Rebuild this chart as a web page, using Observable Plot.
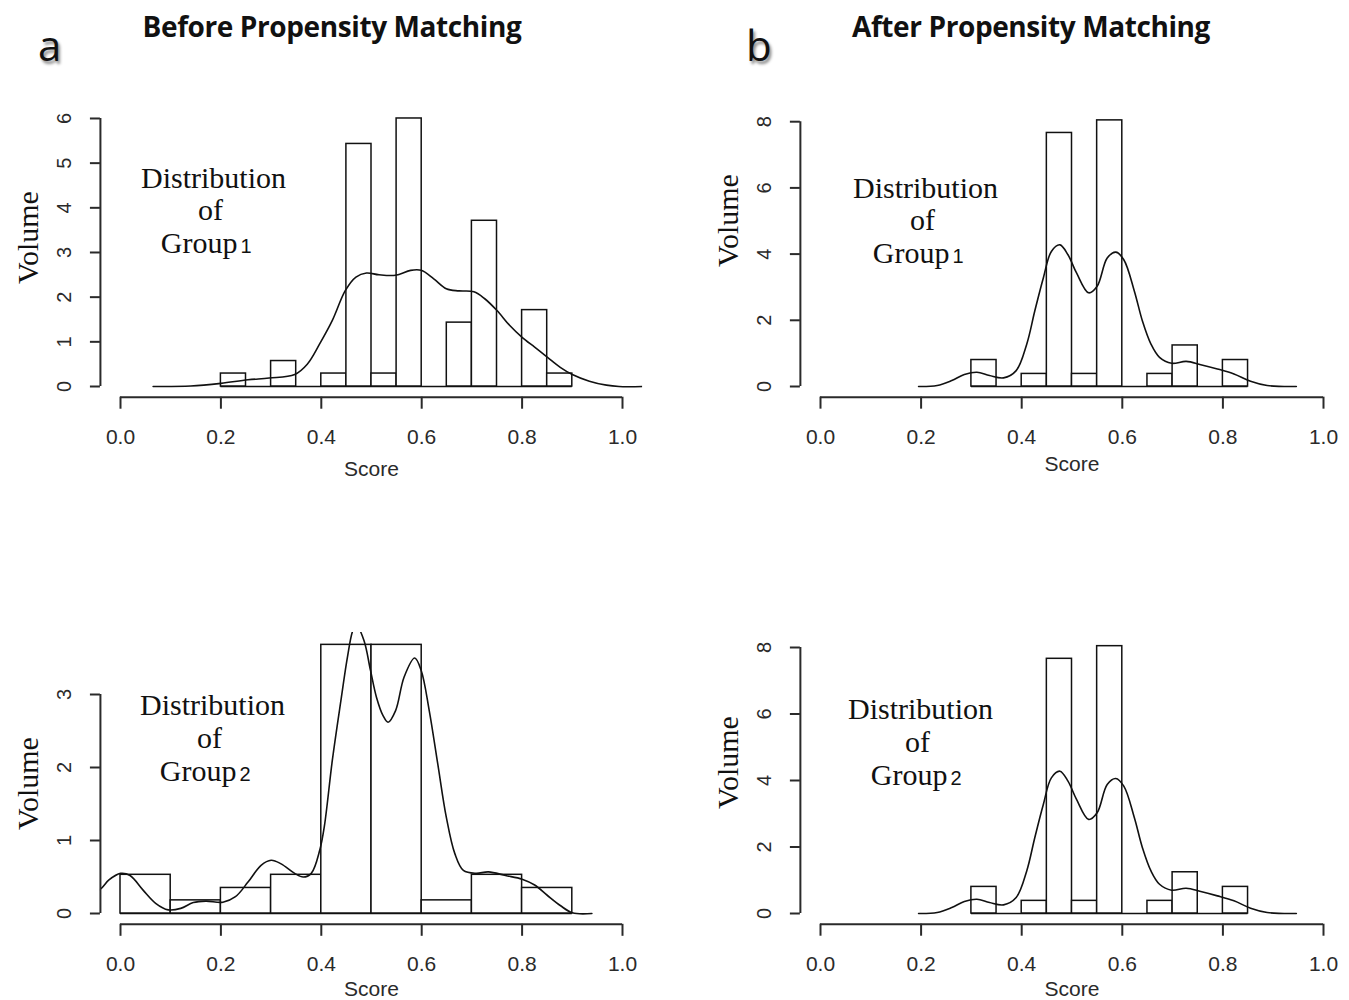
<!DOCTYPE html>
<html><head><meta charset="utf-8">
<script src="https://cdn.jsdelivr.net/npm/d3@7"></script>
<script src="https://cdn.jsdelivr.net/npm/@observablehq/plot@0.6"></script>
<style>
body{margin:0;background:#fff;}
#wrap{position:relative;width:1349px;height:1000px;overflow:hidden;background:#fff;}
.panel{position:absolute;}
.title{position:absolute;font-family:"Open Sans",sans-serif;font-weight:bold;font-size:28px;color:#111;white-space:nowrap;transform:translateX(-50%);letter-spacing:-0.4px;line-height:1;}
.tag{position:absolute;font-family:"Open Sans",sans-serif;font-size:42px;color:#111;text-shadow:2px 3px 3px rgba(0,0,0,0.45);line-height:1;}
</style></head><body><div id="wrap"></div>
<script>
// ---------- data ----------
const xTicks = [0, 0.2, 0.4, 0.6, 0.8, 1.0];

// Before matching, Group 1 (bin width 0.05)
const beforeG1Edges   = [0.20,0.25,0.30,0.35,0.40,0.45,0.50,0.55,0.60,0.65,0.70,0.75,0.80,0.85];
const beforeG1Heights = [0.29,0,0.57,0,0.29,5.43,0.29,6.0,0,1.43,3.71,0,1.71,0.29];
const beforeG1DensX = [0.065,0.14,0.20,0.254,0.296,0.347,0.372,0.397,0.422,0.448,0.469,0.49,0.515,0.548,0.578,0.599,0.624,0.649,0.674,0.704,0.725,0.75,0.775,0.80,0.825,0.85,0.876,0.90,0.934,0.968,0.993,1.04];
const beforeG1DensY = [0,0.01,0.07,0.15,0.19,0.27,0.5,0.96,1.48,2.15,2.45,2.54,2.50,2.49,2.6,2.6,2.41,2.19,2.14,2.12,1.97,1.70,1.37,1.1,0.88,0.66,0.43,0.27,0.12,0.03,0,0];
const beforeG1YTicks = [0,1,2,3,4,5,6];

// Before matching, Group 2 (bin width 0.1)
const beforeG2Edges   = [0.0,0.1,0.2,0.3,0.4,0.5,0.6,0.7,0.8];
const beforeG2Heights = [0.53,0.18,0.35,0.53,3.68,3.68,0.18,0.53,0.35];
const beforeG2DensX = [-0.06,-0.039,-0.023,0.0,0.019,0.045,0.07,0.095,0.12,0.145,0.17,0.204,0.229,0.254,0.28,0.30,0.32,0.347,0.364,0.38,0.397,0.406,0.422,0.44,0.452,0.463,0.47,0.485,0.498,0.51,0.523,0.533,0.548,0.565,0.586,0.599,0.615,0.632,0.649,0.666,0.683,0.708,0.733,0.767,0.80,0.825,0.85,0.876,0.90,0.939];
const beforeG2DensY = [0.25,0.34,0.46,0.55,0.52,0.32,0.14,0.05,0.07,0.15,0.17,0.155,0.23,0.43,0.66,0.73,0.68,0.55,0.50,0.55,0.87,1.19,2.10,2.96,3.51,3.88,3.95,3.74,3.33,2.96,2.71,2.62,2.78,3.24,3.50,3.33,2.78,2.05,1.32,0.82,0.59,0.55,0.57,0.52,0.47,0.39,0.25,0.11,0.01,0];
const beforeG2YTicks = [0,1,2,3];

// After matching (same distribution shown for Group 1 and Group 2, bin width 0.05)
const afterEdges   = [0.30,0.35,0.40,0.45,0.50,0.55,0.60,0.65,0.70,0.75,0.80];
const afterHeights = [0.80,0,0.38,7.66,0.38,8.04,0,0.38,1.24,0,0.80];
const afterDensX = [0.195,0.232,0.261,0.286,0.311,0.336,0.364,0.389,0.41,0.426,0.443,0.459,0.476,0.492,0.509,0.533,0.55,0.57,0.587,0.603,0.624,0.64,0.657,0.674,0.698,0.727,0.756,0.789,0.822,0.855,0.888,0.946];
const afterDensY = [0,0.03,0.18,0.36,0.43,0.33,0.26,0.48,1.28,2.28,3.28,4.08,4.28,3.98,3.43,2.83,3.03,3.88,4.06,3.83,2.88,1.98,1.28,0.88,0.70,0.76,0.66,0.53,0.38,0.16,0.03,0];
const afterYTicks = [0,2,4,6,8];

const titles = ["Before Propensity Matching", "After Propensity Matching"];
const tags = ["a", "b"];

// ---------- layout ----------
const INK = "#111";
const AXIS = "#2a2a2a";
const panels = [
  {left:0, top:90, w:670, h:400, x0:120, x1:622, zero:296, unit:44.67, ymax:6.0,
   edges:beforeG1Edges, bw:0.05, heights:beforeG1Heights, dx:beforeG1DensX, dy:beforeG1DensY, yTicks:beforeG1YTicks,
   num:"1", ann:{cx:213, y1:88, y2:120, y3:153, gEnd:237}, vol:147, scoreY:379},
  {left:700, top:90, w:649, h:400, x0:120, x1:623, zero:296, unit:33.1, ymax:8.05,
   edges:afterEdges, bw:0.05, heights:afterHeights, dx:afterDensX, dy:afterDensY, yTicks:afterYTicks,
   num:"1", ann:{cx:225, y1:98, y2:130, y3:163, gEnd:249}, vol:130, scoreY:374},
  {left:0, top:600, w:670, h:400, x0:120, x1:622, zero:313, unit:73, ymax:3.7,
   edges:beforeG2Edges, bw:0.1, heights:beforeG2Heights, dx:beforeG2DensX, dy:beforeG2DensY, yTicks:beforeG2YTicks,
   num:"2", ann:{cx:212, y1:105, y2:138, y3:171, gEnd:236}, vol:183, scoreY:389},
  {left:700, top:600, w:649, h:400, x0:120, x1:623, zero:313, unit:33.25, ymax:8.05,
   edges:afterEdges, bw:0.05, heights:afterHeights, dx:afterDensX, dy:afterDensY, yTicks:afterYTicks,
   num:"2", ann:{cx:220, y1:109, y2:142, y3:175, gEnd:247}, vol:162, scoreY:389}
];

const wrap = document.getElementById("wrap");
const tickFont = '"Liberation Sans",Arial,sans-serif';
const serif = '"Liberation Serif","Times New Roman",serif';

function makePanel(c) {
  const xDom = [-0.04, 1.04];
  const yDom = [-0.04 * c.ymax, 1.04 * c.ymax];
  const xr = v => c.x0 + v * (c.x1 - c.x0);
  const yr = v => c.zero - v * c.unit;
  const mL = xr(xDom[0]), mR = c.w - xr(xDom[1]);
  const mT = yr(yDom[1]), mB = c.h - yr(yDom[0]);
  const bars = c.edges.map((e, i) => ({x1: e, x2: +(e + c.bw).toFixed(3), y: c.heights[i]}));
  const dens = c.dx.map((x, i) => ({x, y: c.dy[i]}));
  const a = c.ann;
  const txt = (s, o) => Plot.text([s], {text: d => d, frameAnchor: "top-left", textAnchor: "middle", lineAnchor: "middle", fill: INK, ...o});
  return Plot.plot({
    width: c.w, height: c.h,
    marginLeft: mL, marginRight: mR, marginTop: mT, marginBottom: mB,
    x: {domain: xDom}, y: {domain: yDom},
    style: {background: "transparent", overflow: "visible"},
    marks: [
      Plot.ruleY([0], {x1: c.edges[0], x2: c.edges[c.edges.length - 1] + c.bw, stroke: INK, strokeWidth: 1.5}),
      Plot.rect(bars, {x1: "x1", x2: "x2", y1: 0, y2: "y", fill: "white", stroke: INK, strokeWidth: 1.5}),
      Plot.line(dens, {x: "x", y: "y", curve: "catmull-rom", stroke: INK, strokeWidth: 1.6, clip: true}),
      Plot.ruleY([yDom[0]], {x1: xTicks[0], x2: xTicks[xTicks.length - 1], stroke: AXIS, strokeWidth: 2}),
      Plot.ruleX([xDom[0]], {y1: c.yTicks[0], y2: c.yTicks[c.yTicks.length - 1], stroke: AXIS, strokeWidth: 2}),
      Plot.axisX(xTicks, {anchor: "bottom", label: null, tickSize: 12, tickPadding: 20, tickFormat: d3.format(".1f"),
        fontSize: 21, fontFamily: tickFont, color: AXIS, strokeWidth: 2}),
      Plot.axisY(c.yTicks, {anchor: "left", label: null, tickSize: 10, tickRotate: -90, tickPadding: 19, tickFormat: d => String(d),
        fontSize: 20, fontFamily: tickFont, color: AXIS, strokeWidth: 2}),
      txt("Score", {dx: xr(0.5) - mL, dy: c.scoreY - mT, fontSize: 21, fontFamily: tickFont, fill: AXIS}),
      txt("Volume", {rotate: -90, dx: 28 - mL, dy: c.vol - mT, fontSize: 30, fontFamily: serif}),
      txt("Distribution", {dx: a.cx - mL, dy: a.y1 - mT, fontSize: 30, fontFamily: serif}),
      txt("of", {dx: a.cx - 3 - mL, dy: a.y2 - mT, fontSize: 30, fontFamily: serif}),
      txt("Group", {textAnchor: "end", dx: a.gEnd - mL, dy: a.y3 - mT, fontSize: 30, fontFamily: serif}),
      txt(c.num, {textAnchor: "start", dx: a.gEnd + 3 - mL, dy: a.y3 + 3 - mT, fontSize: 20, fontFamily: tickFont})
    ]
  });
}

panels.forEach(c => {
  const svg = makePanel(c);
  const div = document.createElement("div");
  div.className = "panel";
  div.style.left = c.left + "px";
  div.style.top = c.top + "px";
  div.appendChild(svg);
  wrap.appendChild(div);
});

[[332, 12], [1031, 12]].forEach(([x, y], i) => {
  const t = document.createElement("div");
  t.className = "title"; t.textContent = titles[i];
  t.style.left = x + "px"; t.style.top = y + "px";
  wrap.appendChild(t);
});
[[38, 24], [746, 24]].forEach(([x, y], i) => {
  const t = document.createElement("div");
  t.className = "tag"; t.textContent = tags[i];
  t.style.left = x + "px"; t.style.top = y + "px";
  wrap.appendChild(t);
});
</script></body></html>
